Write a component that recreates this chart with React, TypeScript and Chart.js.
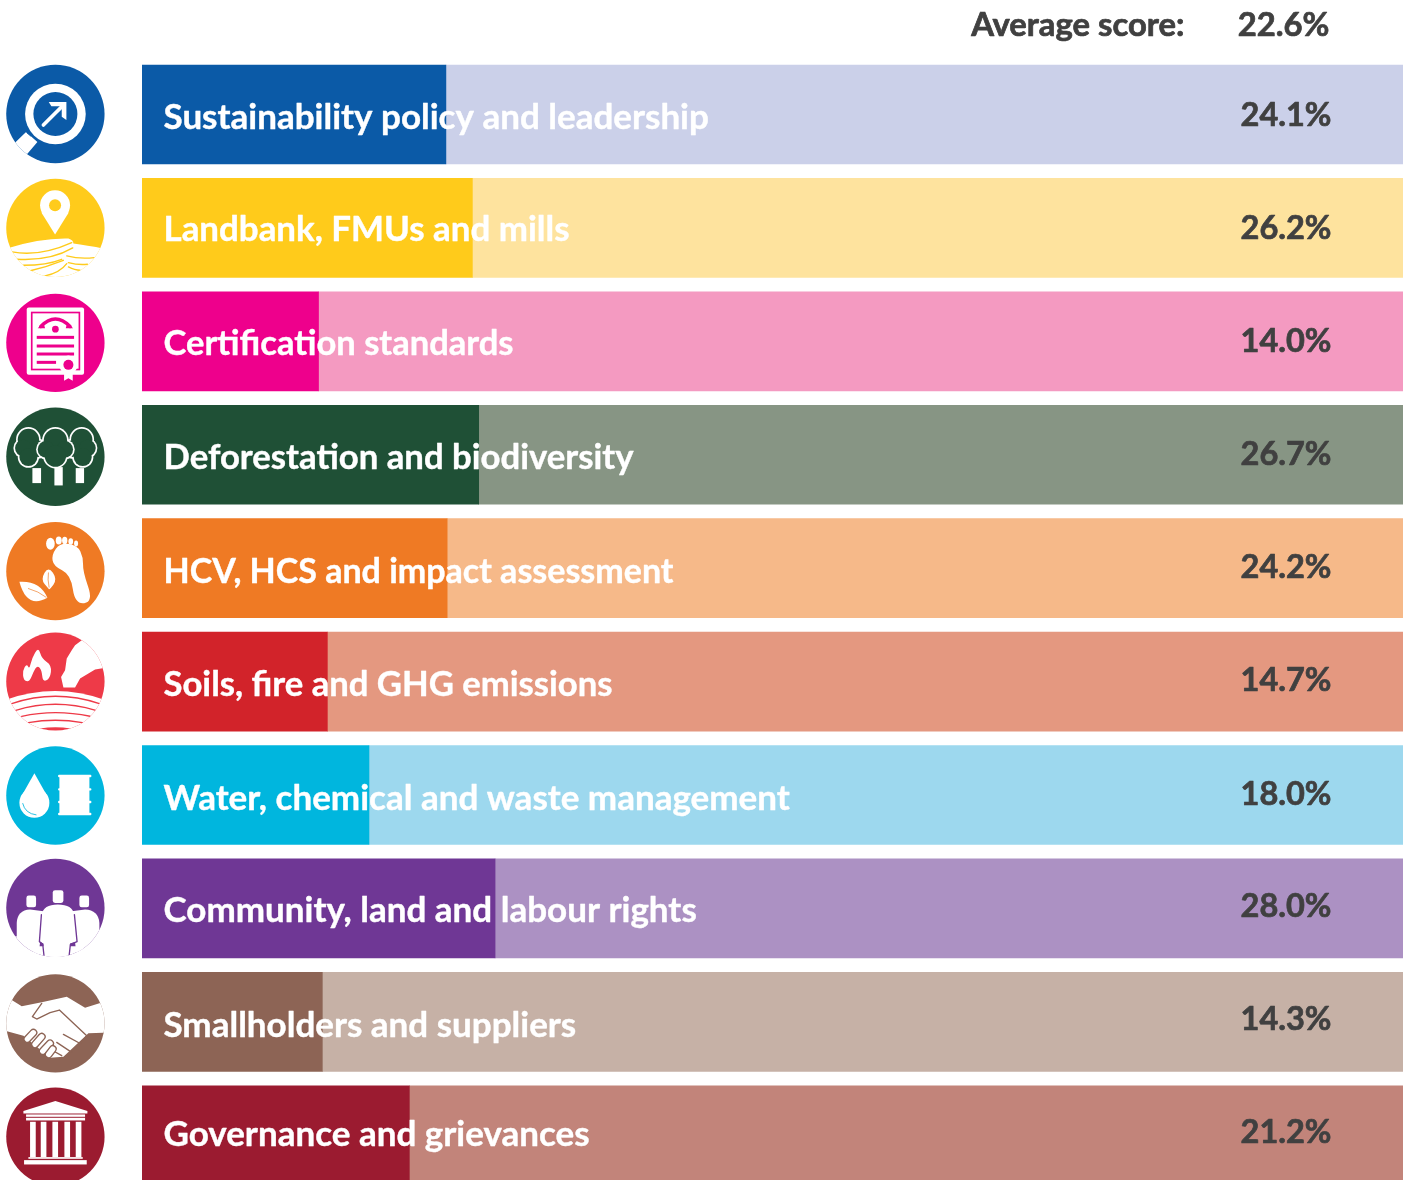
import React, { useEffect, useRef } from "react";
import { Chart, registerables } from "chart.js";

Chart.register(...registerables);

const categories = [
  "Sustainability policy and leadership",
  "Landbank, FMUs and mills",
  "Certification standards",
  "Deforestation and biodiversity",
  "HCV, HCS and impact assessment",
  "Soils, fire and GHG emissions",
  "Water, chemical and waste management",
  "Community, land and labour rights",
  "Smallholders and suppliers",
  "Governance and grievances",
];
const scores = [24.1, 26.2, 14.0, 26.7, 24.2, 14.7, 18.0, 28.0, 14.3, 21.2];
const remainders = [75.9, 73.8, 86.0, 73.3, 75.8, 85.3, 82.0, 72.0, 85.7, 78.8];
const scoreLabels = ["24.1%", "26.2%", "14.0%", "26.7%", "24.2%", "14.7%", "18.0%", "28.0%", "14.3%", "21.2%"];
const averageTitle = "Average score:";
const averageValue = "22.6%";
const darkColors = ["#0B5AA7", "#FFCB1B", "#EE008C", "#1F5036", "#EF7A24", "#D2232A", "#00B6DE", "#6F3795", "#8D6455", "#9B1B30"];
const lightColors = ["#CBD0E9", "#FEE39E", "#F49AC1", "#879584", "#F6B989", "#E49880", "#9DD8EE", "#AC91C3", "#C6B1A6", "#C2847A"];
const iconColors = ["#0B5AA7", "#FFCB1B", "#EE008C", "#1F5036", "#EF7A24", "#EE3A48", "#00B6DE", "#6F3795", "#8D6455", "#9B1B30"];
const iconOffsets = [-0.5, 0, 1.5, 2, 3, 0, 0.5, -0.5, 1.5, 1.5];
const labelOffsets = [3, 2, 2.5, 2.5, 3.5, 3.5, 3.5, 2.5, 3.5, -0.5];
const valueOffsets = [1, 1, 0, 0, -1, -1, -1, -2, -2, -3];
const labelWidths = [547, 406, 350, 470, 510, 449, 628, 537, 416, 427];

type C = CanvasRenderingContext2D;
type P = number[][];

function poly(c: C, pts: P) {
  c.beginPath();
  pts.forEach((p, i) => (i ? c.lineTo(p[0], p[1]) : c.moveTo(p[0], p[1])));
  c.closePath();
  c.fill();
}
function blob(c: C, pts: P) {
  c.beginPath();
  const n = pts.length;
  const mid = (a: number[], b: number[]) => [(a[0] + b[0]) / 2, (a[1] + b[1]) / 2];
  const s = mid(pts[n - 1], pts[0]);
  c.moveTo(s[0], s[1]);
  for (let i = 0; i < n; i++) {
    const m = mid(pts[i], pts[(i + 1) % n]);
    c.quadraticCurveTo(pts[i][0], pts[i][1], m[0], m[1]);
  }
  c.closePath();
  c.fill();
}
function disc(c: C, x: number, y: number, r: number, ry = r) {
  c.beginPath();
  c.ellipse(x, y, r, ry, 0, 0, Math.PI * 2);
  c.fill();
}
function line(c: C, pts: P, w: number) {
  c.lineWidth = w;
  c.lineCap = "round";
  c.lineJoin = "round";
  c.beginPath();
  pts.forEach((p, i) => (i ? c.lineTo(p[0], p[1]) : c.moveTo(p[0], p[1])));
  c.stroke();
}
function curve(c: C, a: number[], b: number[], d: number[], w: number) {
  c.lineWidth = w;
  c.lineCap = "round";
  c.beginPath();
  c.moveTo(a[0], a[1]);
  c.quadraticCurveTo(b[0], b[1], d[0], d[1]);
  c.stroke();
}
const W = "#FFFFFF";

function setFill(c: C, col: string) {
  c.fillStyle = col;
  c.strokeStyle = col;
}

const iconDrawers: ((c: C, col: string) => void)[] = [
  (c, col) => {
    setFill(c, W);
    poly(c, [[47, 262], [78, 232], [112, 262], [82, 297], [40, 320], [0, 290]]);
    setFill(c, col);
    line(c, [[80, 234], [92, 244]], 3);
    setFill(c, W);
    disc(c, 166, 178, 91);
    setFill(c, col);
    disc(c, 166, 178, 66);
    setFill(c, W);
    line(c, [[130, 211], [188, 153]], 11);
    poly(c, [[146, 142], [199, 142], [199, 196], [185, 186], [185, 155], [154, 155]]);
  },
  (c, col) => {
    setFill(c, W);
    disc(c, 165, 450, 45);
    poly(c, [[124, 472], [206, 472], [165, 538]]);
    setFill(c, col);
    disc(c, 165, 450, 18);
    setFill(c, W);
    c.beginPath();
    c.moveTo(20, 580);
    c.quadraticCurveTo(120, 548, 205, 550);
    c.quadraticCurveTo(220, 555, 220, 565);
    c.quadraticCurveTo(260, 570, 320, 582);
    c.lineTo(320, 700);
    c.lineTo(10, 700);
    c.closePath();
    c.fill();
    setFill(c, col);
    curve(c, [36, 590], [120, 605], [215, 562], 4);
    curve(c, [50, 612], [150, 618], [218, 578], 4);
    curve(c, [200, 602], [240, 612], [282, 607], 4);
    curve(c, [70, 630], [140, 630], [185, 612], 4);
    curve(c, [205, 622], [235, 630], [262, 627], 4);
    curve(c, [85, 648], [140, 635], [190, 615], 4);
    curve(c, [135, 662], [180, 652], [200, 625], 4);
    curve(c, [205, 635], [225, 645], [240, 645], 4);
  },
  (c, col) => {
    setFill(c, W);
    c.beginPath();
    c.roundRect(80, 68, 172, 202, 6);
    c.fill();
    setFill(c, col);
    c.lineWidth = 5;
    c.strokeRect(95, 83, 143, 171);
    curve(c, [122, 125], [166, 80], [210, 125], 10);
    disc(c, 166, 133, 10);
    poly(c, [[113, 130], [130, 112], [135, 130]]);
    poly(c, [[219, 130], [202, 112], [197, 130]]);
    c.fillRect(110, 153, 112, 9);
    c.fillRect(110, 179, 112, 9);
    c.fillRect(110, 203, 112, 9);
    c.fillRect(110, 228, 58, 9);
    setFill(c, W);
    disc(c, 205, 240, 28);
    poly(c, [[192, 255], [218, 255], [218, 288], [205, 280], [192, 288]]);
    setFill(c, col);
    disc(c, 205, 240, 15);
  },
  (c) => {
    const trees = [
      [[85, 462, 32], [70, 488, 25], [85, 515, 27], [115, 490, 25]],
      [[245, 462, 32], [262, 488, 25], [248, 515, 27], [215, 490, 25]],
      [[166, 465, 35], [138, 492, 25], [194, 492, 25], [166, 512, 32]],
    ];
    const green = "#1F5036";
    trees.forEach((t) => {
      setFill(c, W);
      t.forEach((k) => disc(c, k[0], k[1], k[2] + 5));
      setFill(c, green);
      t.forEach((k) => disc(c, k[0], k[1], k[2]));
    });
    setFill(c, W);
    c.fillRect(97, 548, 26, 45);
    c.fillRect(163, 545, 25, 55);
    c.fillRect(227, 548, 25, 45);
  },
  (c, col) => {
    setFill(c, W);
    disc(c, 151, 88, 13, 18);
    disc(c, 176, 78, 9, 12);
    disc(c, 194, 78, 8, 11);
    disc(c, 212, 81, 7, 10);
    disc(c, 228, 87, 6, 9);
    blob(c, [[155, 120], [180, 85], [232, 92], [250, 130], [248, 170], [280, 262], [225, 270], [212, 180], [160, 155]]);
    blob(c, [[145, 155], [172, 195], [148, 226], [145, 222], [122, 195]]);
    c.beginPath();
    c.moveTo(58, 202);
    c.quadraticCurveTo(120, 198, 142, 250);
    c.quadraticCurveTo(80, 285, 58, 202);
    c.fill();
    setFill(c, col);
    curve(c, [145, 175], [142, 195], [147, 218], 2);
    curve(c, [85, 222], [115, 230], [138, 248], 2);
  },
  (c, col) => {
    setFill(c, W);
    poly(c, [[245, 375], [225, 390], [215, 405], [200, 430], [195, 465], [183, 485], [190, 517], [225, 517], [240, 490], [265, 475], [285, 463], [312, 458], [340, 400], [280, 340]]);
    blob(c, [[115, 395], [125, 430], [155, 450], [150, 490], [128, 500], [125, 465], [112, 450], [100, 470], [88, 500], [70, 495], [68, 465], [80, 445], [88, 462], [95, 430]]);
    c.beginPath();
    c.moveTo(0, 560);
    c.quadraticCurveTo(166, 495, 330, 560);
    c.lineTo(330, 700);
    c.lineTo(0, 700);
    c.closePath();
    c.fill();
    setFill(c, col);
    curve(c, [35, 565], [166, 521], [298, 565], 4);
    curve(c, [47, 585], [166, 549], [287, 585], 4);
    curve(c, [65, 603], [166, 581], [270, 603], 4);
    curve(c, [85, 622], [166, 608], [247, 622], 4);
    c.beginPath();
    c.moveTo(120, 640);
    c.quadraticCurveTo(166, 632, 212, 640);
    c.quadraticCurveTo(166, 652, 120, 640);
    c.fill();
  },
  (c, col) => {
    setFill(c, W);
    disc(c, 103, 186, 45);
    poly(c, [[103, 97], [62, 170], [144, 170]]);
    setFill(c, col);
    curve(c, [68, 188], [75, 218], [108, 222], 2.5);
    setFill(c, W);
    c.fillRect(178, 105, 90, 117);
    [105, 145, 183, 219].forEach((y) => {
      c.beginPath();
      c.roundRect(174, y - 3, 100, 7, 3);
      c.fill();
    });
  },
  (c, col) => {
    setFill(c, W);
    const head = (x: number, y: number, w: number, h: number) => {
      c.beginPath();
      c.roundRect(x, y, w, h, 7);
      c.fill();
    };
    head(79, 468, 29, 35);
    head(238, 468, 29, 35);
    head(158, 452, 32, 38);
    c.beginPath();
    c.moveTo(50, 700);
    c.lineTo(50, 550);
    c.quadraticCurveTo(52, 512, 90, 510);
    c.lineTo(130, 515);
    c.lineTo(110, 700);
    c.closePath();
    c.fill();
    c.beginPath();
    c.moveTo(298, 700);
    c.lineTo(298, 550);
    c.quadraticCurveTo(295, 512, 255, 510);
    c.lineTo(215, 515);
    c.lineTo(235, 700);
    c.closePath();
    c.fill();
    poly(c, [[0, 580], [50, 590], [50, 700], [0, 700]]);
    poly(c, [[330, 575], [298, 578], [298, 700], [330, 700]]);
    poly(c, [[100, 620], [250, 620], [250, 700], [100, 700]]);
    c.beginPath();
    c.moveTo(135, 700);
    c.lineTo(130, 612);
    c.lineTo(118, 606);
    c.lineTo(125, 525);
    c.quadraticCurveTo(130, 495, 173, 495);
    c.quadraticCurveTo(218, 495, 222, 525);
    c.lineTo(231, 606);
    c.lineTo(210, 612);
    c.lineTo(205, 700);
    c.closePath();
    c.fill();
    setFill(c, col);
    line(c, [[132, 650], [128, 614], [118, 606], [124, 525]], 4);
    line(c, [[207, 650], [211, 614], [231, 606], [223, 525]], 4);
  },
  (c, col) => {
    setFill(c, W);
    poly(c, [[35, 105], [65, 124], [125, 112], [200, 95], [255, 128], [298, 115], [330, 110], [330, 200], [308, 203], [265, 205], [190, 275], [150, 278], [70, 212], [18, 198], [0, 180], [0, 100]]);
    setFill(c, col);
    line(c, [[125, 115], [97, 155], [110, 162], [150, 143], [178, 135], [260, 212], [242, 235]], 4);
    line(c, [[190, 208], [243, 237]], 4);
    line(c, [[170, 232], [215, 262]], 4);
    line(c, [[155, 255], [185, 272]], 4);
    setFill(c, W);
    c.lineWidth = 4;
    const finger = (a: number[], b: number[]) => {
      setFill(c, col);
      line(c, [a, b], 24);
      setFill(c, W);
      line(c, [a, b], 16);
    };
    finger([82, 222], [100, 203]);
    finger([105, 238], [125, 215]);
    finger([128, 258], [150, 235]);
    finger([146, 268], [158, 252]);
  },
  (c, col) => {
    setFill(c, W);
    poly(c, [[70, 440], [166, 410], [262, 440], [262, 447], [70, 447]]);
    c.fillRect(78, 450, 177, 7);
    c.fillRect(78, 460, 177, 8);
    [90, 122, 157, 193, 227].forEach((x) => {
      c.fillRect(x, 472, 17, 106);
    });
    c.fillRect(85, 578, 163, 5);
    c.fillRect(72, 587, 188, 13);
    setFill(c, col);
  },
];
const iconZoomCentres = [178, 518, 174, 514, 170, 499, 164, 505, 175, 517];

function boldText(c: C, text: string, x: number, y: number, weight: number, maxWidth?: number) {
  c.lineWidth = weight;
  c.lineJoin = "round";
  c.strokeStyle = c.fillStyle as string;
  if (maxWidth) {
    c.strokeText(text, x, y, maxWidth);
    c.fillText(text, x, y, maxWidth);
  } else {
    c.strokeText(text, x, y);
    c.fillText(text, x, y);
  }
}

const decorPlugin = {
  id: "decor",
  afterDatasetsDraw(chart: Chart) {
    const c = chart.ctx;
    const y = chart.scales.y;
    c.save();
    categories.forEach((label, i) => {
      const py = y.getPixelForValue(i);
      c.save();
      c.font = "700 35px Lato";
      c.fillStyle = "#FFFFFF";
      c.textAlign = "left";
      c.textBaseline = "middle";
      boldText(c, label, 163.5, py + labelOffsets[i], 0.4, labelWidths[i]);
      c.font = "700 32.5px Lato";
      c.fillStyle = "#404040";
      c.textAlign = "right";
      boldText(c, scoreLabels[i], 1331.5, py + valueOffsets[i], 0.7);
      c.restore();

      const zc = iconZoomCentres[i];
      const cx = 55.4;
      const cy = py + iconOffsets[i];
      c.save();
      c.translate(cx, cy);
      c.scale(1 / 3, 1 / 3);
      c.translate(-166, -zc);
      c.beginPath();
      c.arc(166, zc, 147.5, 0, Math.PI * 2);
      c.fillStyle = iconColors[i];
      c.fill();
      c.clip();
      iconDrawers[i](c, iconColors[i]);
      c.restore();
    });
    c.font = "700 32.8px Lato";
    c.fillStyle = "#404040";
    c.textBaseline = "middle";
    c.textAlign = "right";
    boldText(c, averageTitle, 1184.5, 25.5, 0.7);
    boldText(c, averageValue, 1329.5, 25.5, 0.7);
    c.restore();
  },
};

export default function App() {
  const ref = useRef<HTMLCanvasElement>(null);
  useEffect(() => {
    const chart = new Chart(ref.current!, {
      type: "bar",
      plugins: [decorPlugin],
      data: {
        labels: categories,
        datasets: [
          { label: "Score", data: scores, backgroundColor: darkColors, barThickness: 99, borderWidth: 0 },
          { label: "Remainder", data: remainders, backgroundColor: lightColors, barThickness: 99, borderWidth: 0 },
        ],
      },
      options: {
        indexAxis: "y",
        animation: false,
        responsive: false,
        layout: { padding: { left: 142, right: 4, top: 57.8, bottom: 0 } },
        plugins: { legend: { display: false }, title: { display: false }, tooltip: { enabled: false } },
        scales: {
          x: { stacked: true, min: 0, max: 100, display: false },
          y: { stacked: true, display: false },
        },
      },
    });
    return () => chart.destroy();
  }, []);
  return (
    <div style={{ position: "absolute", left: 0, top: 0, width: 1407, height: 1180, overflow: "hidden", background: "#fff" }}>
      <canvas ref={ref} width={1407} height={1192} style={{ display: "block" }} />
    </div>
  );
}
